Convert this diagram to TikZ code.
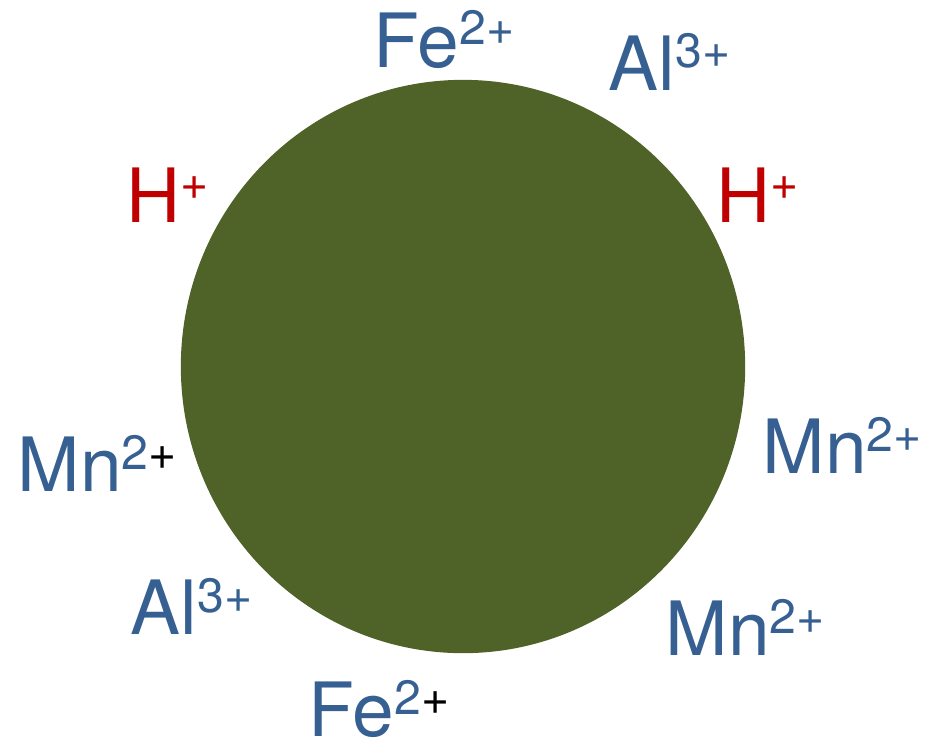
\documentclass[tikz,border=0pt]{standalone}
\usepackage{fontspec}
\setmainfont{TeX Gyre Heros}
\usepackage{tikz}
\usepackage{xcolor}
\usetikzlibrary{positioning}
\definecolor{ionBlue}{RGB}{55,96,146}
\definecolor{ionRed}{RGB}{192,0,0}
\definecolor{grainGreen}{RGB}{79,98,40}
\newcommand{\ionsup}[1]{\raisebox{0.22cm}{\fontsize{13.7}{15}\selectfont #1}}

\begin{document}
\begin{tikzpicture}[x=0.01cm, y=-0.01cm,
    ionlabel/.style={anchor=base west, inner sep=0pt, text=ionBlue, font=\fontsize{21.3}{24}\selectfont},
    hlabel/.style={ionlabel, text=ionRed}]
    \useasboundingbox (0,0) rectangle (937,745);
    \fill[grainGreen] (463,366.5) ellipse [x radius=2.82cm, y radius=2.865cm];
    % top side
    \node[ionlabel] (fetop) at (373,67) {Fe\ionsup{2+}};
    \node[ionlabel] (altop) at (608,90) {Al\ionsup{3+}};
    \node[hlabel] (hleft) at (126,222) {H\ionsup{+}};
    \node[hlabel] (hright) at (716,222) {H\ionsup{+}};
    % bottom side
    \node[ionlabel] (mnleft) at (17,491) {Mn\ionsup{2\textcolor{black}{+}}};
    \node[ionlabel] (mnright) at (762,473) {Mn\ionsup{2+}};
    \node[ionlabel] (albot) at (130,634) {Al\ionsup{3+}};
    \node[ionlabel] (mnbot) at (665,655) {Mn\ionsup{2+}};
    \node[ionlabel] (febot) at (308,736) {Fe\ionsup{2\textcolor{black}{+}}};
\end{tikzpicture}
\end{document}
